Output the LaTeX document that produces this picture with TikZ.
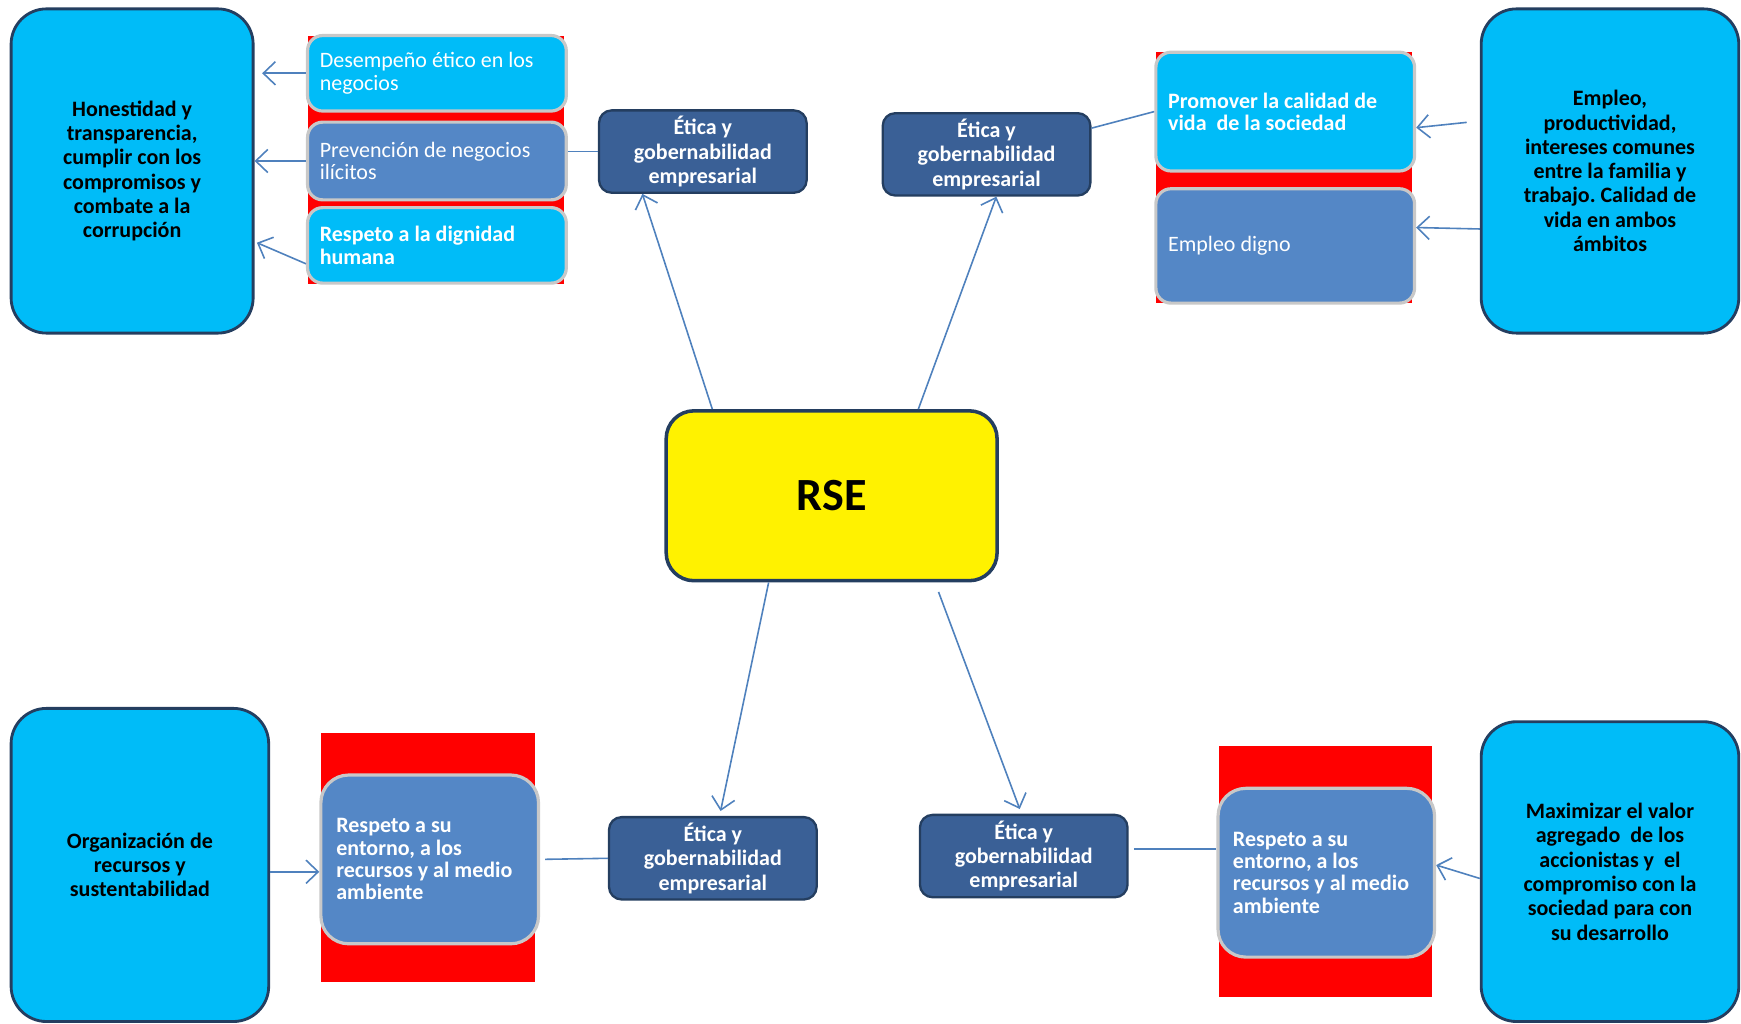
\documentclass[tikz,border=0pt]{standalone}
\usepackage{fontspec}
\setmainfont{Carlito}
\frenchspacing
\usetikzlibrary{arrows.meta}
\definecolor{cian}{RGB}{0,188,248}
\definecolor{acero}{RGB}{84,135,198}
\definecolor{marino}{RGB}{36,62,96}
\definecolor{oscuro}{RGB}{58,96,150}
\definecolor{gris}{RGB}{200,200,200}
\definecolor{linea}{RGB}{79,129,189}
\tikzset{
  sz/.style 2 args={minimum width=#1*0.022cm,minimum height=#2*0.022cm},
  grande/.style={draw=marino,line width=1.6pt,fill=cian,rounded corners=0.7cm,
    align=center,font=\fontsize{12.4}{13.7}\selectfont\bfseries},
  hoja/.style={draw=gris,line width=1.8pt,rounded corners=0.3cm,text=white,
    align=flush left,inner xsep=0.24cm,text width=4.64cm,font=\fontsize{12.4}{12.6}\selectfont},
  etica/.style={draw=marino,line width=1.3pt,fill=oscuro,rounded corners=0.25cm,
    text=white,align=center,font=\fontsize{12.4}{13.7}\selectfont\bfseries,sz={187}{74}},
  central/.style={draw=marino,line width=2pt,fill=yellow,rounded corners=0.55cm,
    font=\fontsize{26}{30}\selectfont\bfseries,sz={298}{153}},
  fondo/.style={fill=red},
  flecha/.style={draw=linea,line width=0.9pt,-{Straight Barb[length=2.4mm,width=4.6mm]}},
  enlace/.style={draw=linea,line width=0.9pt}
}
\begin{document}
\begin{tikzpicture}[x=0.022cm,y=-0.022cm]
\useasboundingbox (0,0) rectangle (1568,922);
% fondos rojos
\fill[fondo] (277,32) rectangle (508,256);
\fill[fondo] (1041,47) rectangle (1272,273);
\fill[fondo] (289,660) rectangle (482,884);
\fill[fondo] (1098,672) rectangle (1290,898);
% cajas grandes
\node[grande,sz={218}{292}] (hon) at (119,154) {Honestidad y\\transparencia,\\cumplir con los\\compromisos y\\combate a la\\corrupción};
\node[grande,sz={232}{292}] (fam) at (1450,154) {Empleo,\\productividad,\\intereses comunes\\entre la familia y\\trabajo. Calidad de\\vida en ambos\\ámbitos};
\node[grande,sz={232}{282}] (org) at (126,779) {Organización de\\recursos y\\sustentabilidad};
\node[grande,sz={232}{270}] (val) at (1450,785) {Maximizar el valor\\agregado\ \ de los\\accionistas y\ \ el\\compromiso con la\\sociedad para con\\su desarrollo};
% cajas de temas
\node[hoja,fill=cian,sz={233}{68}] (des) at (393.5,66) {Desempeño ético en los\\negocios};
\node[hoja,fill=acero,sz={233}{70}] (prev) at (393.5,145) {Prevención de negocios\\ilícitos};
\node[hoja,fill=cian,sz={233}{68},font=\fontsize{12.4}{12.6}\selectfont\bfseries] (dig) at (393.5,221) {Respeto a la dignidad\\humana};
\node[hoja,fill=cian,sz={233}{107},font=\fontsize{12.4}{12.6}\selectfont\bfseries] (prom) at (1157.5,100.5) {Promover la calidad de\\vida\ \ de la sociedad};
\node[hoja,fill=acero,sz={233}{103}] (empl) at (1157.5,221.5) {Empleo digno};
\node[hoja,fill=acero,sz={196}{152},rounded corners=0.55cm,inner xsep=0.3cm,text width=3.7cm,font=\fontsize{12.4}{12.6}\selectfont\bfseries] (entA) at (387,774) {Respeto a su\\entorno, a los\\recursos y al medio\\ambiente};
\node[hoja,fill=acero,sz={195}{152},rounded corners=0.55cm,inner xsep=0.29cm,text width=3.7cm,font=\fontsize{12.4}{12.6}\selectfont\bfseries] (entB) at (1194.5,786) {Respeto a su\\entorno, a los\\recursos y al medio\\ambiente};
% etica y gobernabilidad
\node[etica] (eticaA) at (633,136.5) {Ética y\\gobernabilidad\\empresarial};
\node[etica] (eticaB) at (888.5,139) {Ética y\\gobernabilidad\\empresarial};
\node[etica] (eticaC) at (642,773) {Ética y\\gobernabilidad\\empresarial};
\node[etica] (eticaD) at (922,771) {Ética y\\gobernabilidad\\empresarial};
\node[central] (rse) at (749,446.5) {RSE};
% conectores
\draw[flecha,shorten >=0.15cm] (des.west) -- (des.west -| hon.east);
\draw[flecha] (prev.west) -- (prev.west -| hon.east);
\draw[flecha,shorten >=0.05cm] (dig.-172) -- (hon.-30);
\draw[enlace] (prev.east |- eticaA.west) -- (eticaA.west);
\draw[flecha] (rse.144) -- (eticaA.-145);
\draw[flecha] (rse.45) -- (eticaB.-77);
\draw[enlace] (eticaB.14) -- (prom.west);
\draw[flecha,shorten <=0.26cm] (fam.159) -- (prom.-7);
\draw[flecha] (fam.-156) -- (empl.8);
\draw[flecha,shorten >=0.1cm] (rse.-126) -- (eticaC.81);
\draw[flecha,shorten <=0.2cm,shorten >=0.1cm] (rse.-40) -- (eticaD.93);
\draw[enlace,shorten >=0.1cm] (eticaC.west) -- (entA.east);
\draw[flecha] (org.-3) -- (org.-3 -| entA.west);
\draw[enlace,shorten <=0.1cm] (eticaD.4) -- (eticaD.4 -| entB.west);
\draw[flecha] (val.-177) -- (entB.4);
\end{tikzpicture}
\end{document}
